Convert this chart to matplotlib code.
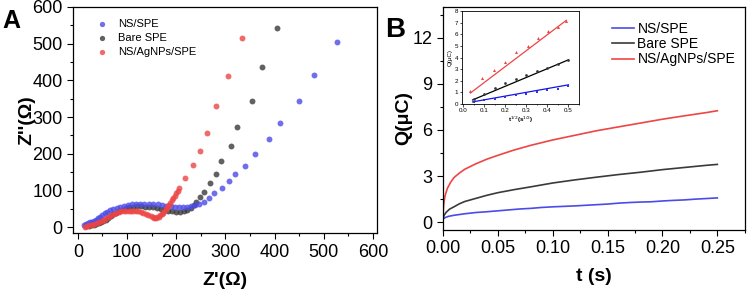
import numpy as np
import matplotlib
matplotlib.use("Agg")
import matplotlib.pyplot as plt
from matplotlib.ticker import MultipleLocator

plt.rcParams['font.family'] = ['Liberation Sans', 'DejaVu Sans']

# ---- Panel A: Nyquist plots (Z' vs Z'') ----
ns_zre = [12, 16, 20, 24, 28, 32, 36, 40, 45, 50, 55, 60, 66, 72, 79, 86, 94, 102,
          110, 118, 126, 135, 144, 153, 162, 171, 180, 189, 198, 206, 214, 222, 230,
          238, 246, 256, 267, 276, 293, 308, 320, 340, 361, 388, 410, 449, 479, 526]
ns_zim = [5, 8, 11, 13, 15, 18, 21, 25, 29, 33, 38, 42, 46, 50, 53, 56, 58, 60,
          62, 63, 64, 64, 64, 63, 62, 61, 59, 57, 55, 55, 55, 55, 57,
          60, 64, 69, 80, 92, 107, 125, 145, 168, 200, 239, 284, 345, 414, 504]

bare_zre = [17, 22, 27, 32, 37, 42, 47, 52, 57, 62, 67, 72, 78, 84, 90, 97, 104, 112,
            120, 128, 136, 144, 152, 160, 168, 176, 184, 192, 200, 208, 215, 222, 229,
            235, 241, 248, 256, 268, 280, 290, 312, 323, 353, 375, 405]
bare_zim = [2, 3, 5, 7, 9, 12, 15, 18, 21, 25, 30, 35, 40, 44, 48, 51, 54, 56,
            57, 57, 56, 55, 54, 52, 50, 47, 45, 43, 42, 42, 44, 47, 52,
            60, 68, 82, 96, 121, 144, 180, 221, 274, 343, 436, 544]

ag_zre = [15, 19, 23, 28, 33, 38, 43, 48, 53, 58, 63, 68, 73, 78, 83, 88, 93, 98,
          103, 108, 113, 118, 123, 128, 133, 138, 143, 148, 152, 155, 158, 161, 164,
          167, 170, 173, 176, 179, 182, 185, 188, 191, 194, 197, 200, 203, 206,
          217, 233, 248, 262, 280, 306, 334]
ag_zim = [1, 3, 5, 7, 10, 12, 15, 18, 21, 25, 29, 33, 36, 39, 41, 43, 44, 45,
          45, 45, 45, 44, 43, 42, 40, 37, 34, 31, 28, 26, 26, 27, 29,
          32, 36, 40, 45, 50, 55, 61, 67, 73, 79, 86, 93, 100, 108,
          134, 169, 208, 257, 330, 412, 515]

# ---- Panel B: chronocoulometry Q vs t ----
t_ag = [0, 0.0005, 0.001, 0.002, 0.004, 0.007, 0.01, 0.015, 0.02, 0.03, 0.04, 0.05,
        0.065, 0.08, 0.1, 0.12, 0.14, 0.16, 0.18, 0.2, 0.22, 0.24, 0.25]
q_ag = [0.3, 1.0, 1.35, 1.75, 2.2, 2.6, 2.9, 3.2, 3.45, 3.8, 4.1, 4.35,
        4.7, 5.0, 5.35, 5.65, 5.95, 6.2, 6.45, 6.7, 6.92, 7.13, 7.25]

t_bare = [0, 0.001, 0.003, 0.006, 0.01, 0.015, 0.02, 0.03, 0.04, 0.05, 0.065, 0.08,
          0.1, 0.12, 0.14, 0.16, 0.18, 0.2, 0.22, 0.24, 0.25]
q_bare = [0.2, 0.45, 0.65, 0.85, 1.0, 1.2, 1.35, 1.55, 1.75, 1.92, 2.12, 2.3,
          2.55, 2.75, 2.93, 3.1, 3.25, 3.42, 3.56, 3.7, 3.76]

t_ns = [0, 0.002, 0.005, 0.01, 0.02, 0.03, 0.04, 0.05, 0.06, 0.07, 0.08, 0.09, 0.1,
        0.11, 0.12, 0.13, 0.14, 0.15, 0.16, 0.17, 0.18, 0.19, 0.2, 0.21, 0.22, 0.23,
        0.24, 0.25]
q_ns = [0.2, 0.3, 0.38, 0.45, 0.55, 0.63, 0.68, 0.74, 0.8, 0.86, 0.9, 0.96, 1.0,
        1.03, 1.06, 1.1, 1.14, 1.18, 1.24, 1.28, 1.31, 1.33, 1.38, 1.42, 1.45, 1.5,
        1.54, 1.58]

# inset: Q vs t^(1/2)
in_x_ag = [0.035, 0.09, 0.145, 0.2, 0.25, 0.31, 0.355, 0.405, 0.45, 0.49]
in_y_ag = [1.1, 2.2, 2.9, 3.6, 4.45, 5.0, 5.7, 6.25, 6.65, 7.15]
in_x = [0.05, 0.1, 0.15, 0.2, 0.25, 0.3, 0.35, 0.4, 0.45, 0.5]
in_y_bare = [0.4, 0.9, 1.4, 1.8, 2.15, 2.5, 2.8, 3.1, 3.4, 3.75]
in_y_ns = [0.2, 0.32, 0.47, 0.6, 0.75, 0.9, 1.05, 1.18, 1.32, 1.55]
# linear fit endpoints (x0, x1), (y0, y1)
fit_ag = ([0.035, 0.49], [0.95, 7.2])
fit_bare = ([0.045, 0.5], [0.35, 3.8])
fit_ns = ([0.045, 0.5], [0.18, 1.65])

C_BLUE = "#4b4bea"
C_BLACK = "#3a3a3a"
C_RED = "#ee4545"

fig = plt.figure(figsize=(7.47, 2.91), dpi=100)


def style_axis(ax, size=13, major=4, minor=2.5):
    ax.tick_params(which="both", direction="out", top=False, right=False,
                   labelsize=size, width=0.8)
    ax.tick_params(which="major", length=major)
    ax.tick_params(which="minor", length=minor)
    for s in ax.spines.values():
        s.set_linewidth(0.9)


# (A)
axA = fig.add_axes([0.0977, 0.199, 0.407, 0.777])
kw = dict(s=18, alpha=0.8, linewidths=0)
axA.scatter(ns_zre, ns_zim, color=C_BLUE, label="NS/SPE", zorder=3, **kw)
axA.scatter(bare_zre, bare_zim, color=C_BLACK, label="Bare SPE", zorder=2, **kw)
axA.scatter(ag_zre, ag_zim, color=C_RED, label="NS/AgNPs/SPE", zorder=4, **kw)
axA.set_xlim(-10, 608)
axA.set_ylim(-16, 600)
axA.xaxis.set_major_locator(MultipleLocator(100))
axA.xaxis.set_minor_locator(MultipleLocator(50))
axA.yaxis.set_major_locator(MultipleLocator(100))
axA.yaxis.set_minor_locator(MultipleLocator(50))
style_axis(axA)
axA.set_xlabel("Z'(Ω)", fontsize=14, fontweight="bold", labelpad=8)
axA.set_ylabel("Z''(Ω)", fontsize=14, fontweight="bold", labelpad=-2)
axA.legend(loc="upper left", bbox_to_anchor=(0.025, 0.99), frameon=False,
           fontsize=8, handletextpad=0.5, labelspacing=0.35, markerscale=0.9)
fig.text(0.003, 0.904, "A", fontsize=18, fontweight="bold")

# (B)
axB = fig.add_axes([0.593, 0.21, 0.404, 0.766])
axB.plot(t_ns, q_ns, color=C_BLUE, lw=1.2, label="NS/SPE")
axB.plot(t_bare, q_bare, color=C_BLACK, lw=1.2, label="Bare SPE")
axB.plot(t_ag, q_ag, color=C_RED, lw=1.2, label="NS/AgNPs/SPE")
axB.set_xlim(0, 0.275)
axB.set_ylim(-0.5, 14)
axB.xaxis.set_major_locator(MultipleLocator(0.05))
axB.xaxis.set_minor_locator(MultipleLocator(0.025))
axB.yaxis.set_major_locator(MultipleLocator(3))
axB.yaxis.set_minor_locator(MultipleLocator(1.5))
axB.xaxis.set_major_formatter(plt.FormatStrFormatter("%.2f"))
style_axis(axB)
axB.set_xlabel("t (s)", fontsize=14, fontweight="bold", labelpad=8)
axB.set_ylabel("Q(μC)", fontsize=14, fontweight="bold", labelpad=0)
axB.legend(loc="upper right", bbox_to_anchor=(1.01, 0.99), frameon=False,
           fontsize=10, handlelength=1.6, handletextpad=0.25, labelspacing=0.1)
fig.text(0.516, 0.873, "B", fontsize=20, fontweight="bold")

# inset
axI = fig.add_axes([0.6185, 0.6426, 0.1566, 0.3196])
axI.plot(*fit_ag, color=C_RED, lw=0.9)
axI.plot(*fit_bare, color="black", lw=0.9)
axI.plot(*fit_ns, color="#1515e0", lw=0.9)
axI.plot(in_x_ag, in_y_ag, "^", color=C_RED, ms=2.2, mew=0)
axI.plot(in_x, in_y_bare, "o", color=C_BLACK, ms=2.0, mew=0)
axI.plot(in_x, in_y_ns, "s", color="#3030ee", ms=2.0, mew=0)
axI.set_xlim(-0.005, 0.55)
axI.set_ylim(0, 8)
axI.xaxis.set_major_locator(MultipleLocator(0.1))
axI.xaxis.set_minor_locator(MultipleLocator(0.05))
axI.yaxis.set_major_locator(MultipleLocator(1))
style_axis(axI, size=4.5, major=1.8, minor=1.0)
for s in axI.spines.values():
    s.set_linewidth(0.6)
axI.tick_params(which="both", width=0.5, pad=1)
axI.set_xlabel(r"t$^{1/2}$(s$^{1/2}$)", fontsize=4.5, fontweight="bold", labelpad=1.5)
axI.set_ylabel("Q(μC)", fontsize=4.5, labelpad=1)

fig.savefig("out.png", dpi=100)
